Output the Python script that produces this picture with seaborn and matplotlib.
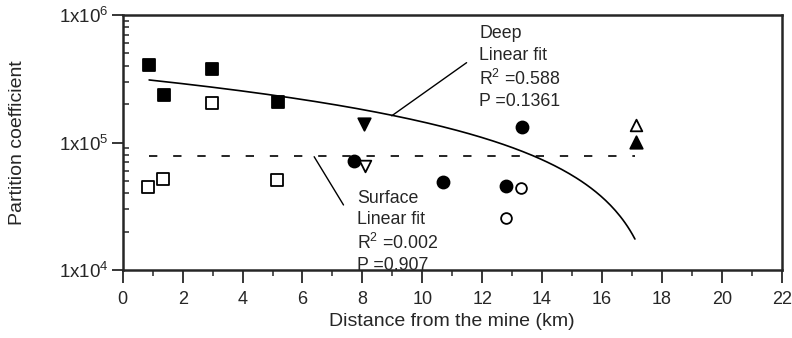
import numpy as np
import pandas as pd
import matplotlib
matplotlib.use("Agg")
import matplotlib.pyplot as plt
import seaborn as sns
from matplotlib.ticker import FixedLocator, LogLocator, NullFormatter

# ---- data ----
deep_sq_x = [0.89, 1.39, 2.99, 5.18]
deep_sq_y = [4.06e5, 2.36e5, 3.77e5, 2.09e5]
surf_sq_x = [0.83, 1.36, 2.99, 5.14]
surf_sq_y = [4.45e4, 5.2e4, 2.05e5, 5.08e4]
deep_ci_x = [7.72, 10.70, 12.80, 13.32]
deep_ci_y = [7.16e4, 4.87e4, 4.58e4, 1.33e5]
surf_ci_x = [12.80, 13.29]
surf_ci_y = [2.57e4, 4.37e4]
deep_td_x = [8.06]
deep_td_y = [1.40e5]
surf_td_x = [8.09]
surf_td_y = [6.58e4]
deep_tu_x = [17.14]
deep_tu_y = [1.01e5]
surf_tu_x = [17.14]
surf_tu_y = [1.37e5]

# linear fits (y = a + b*x), drawn on the log axis
deep_fit = (325400, -18005)
surf_fit = (78700, 0.0)
fit_range = (0.88, 17.1)

deep_text = "Deep\nLinear fit\nR$^2$ =0.588\nP =0.1361"
surf_text = "Surface\nLinear fit\nR$^2$ =0.002\nP =0.907"

groups = [
    (deep_sq_x, deep_sq_y, "s", True, 85),
    (surf_sq_x, surf_sq_y, "s", False, 85),
    (deep_ci_x, deep_ci_y, "o", True, 75),
    (surf_ci_x, surf_ci_y, "o", False, 60),
    (deep_td_x, deep_td_y, "v", True, 80),
    (surf_td_x, surf_td_y, "v", False, 70),
    (deep_tu_x, deep_tu_y, "^", True, 80),
    (surf_tu_x, surf_tu_y, "^", False, 70),
]

sns.set_style("ticks")
plt.rcParams["font.family"] = ["Liberation Sans", "DejaVu Sans"]
plt.rcParams["mathtext.fontset"] = "custom"
plt.rcParams["mathtext.rm"] = "Liberation Sans"

fig = plt.figure(figsize=(7.92, 3.38), dpi=100)
ax = fig.add_axes([0.155, 0.201, 0.832, 0.7546])

for gx, gy, m, filled, s in groups:
    df = pd.DataFrame({"x": gx, "y": gy})
    sns.scatterplot(data=df, x="x", y="y", marker=m, s=s, ax=ax,
                    color="black" if filled else "white",
                    edgecolor="black", linewidth=1.3, zorder=3)

xs = np.linspace(fit_range[0], fit_range[1], 200)
ax.plot(xs, deep_fit[0] + deep_fit[1] * xs, color="black", lw=1.2)
ax.plot(xs, surf_fit[0] + surf_fit[1] * xs, color="black", lw=1.2,
        dashes=(5, 9.5))

ax.set_yscale("log")
ax.set_xlim(0, 22)
ax.set_ylim(1e4, 1e6)

ax.xaxis.set_major_locator(FixedLocator(np.arange(0, 23, 2)))
ax.xaxis.set_minor_locator(FixedLocator(np.arange(1, 22, 2)))
ax.yaxis.set_major_locator(FixedLocator([1e4, 1e5, 1e6]))
ax.yaxis.set_minor_locator(LogLocator(base=10, subs=np.arange(2, 10)))
ax.yaxis.set_minor_formatter(NullFormatter())
ax.set_yticklabels(["1x10$^4$", "1x10$^5$", "1x10$^6$"])
ax.set_xticklabels([str(v) for v in range(0, 23, 2)])

ax.tick_params(axis="x", which="major", direction="out", length=9, width=1.3,
               labelsize=13, pad=6)
ax.tick_params(axis="x", which="minor", direction="out", length=4, width=1.1)
ax.tick_params(axis="y", which="major", direction="out", length=8, width=1.3,
               labelsize=13.5, pad=2)
ax.tick_params(axis="y", which="minor", direction="in", length=4.5, width=1.1)

for sp in ax.spines.values():
    sp.set_linewidth(1.8)
    sp.set_visible(True)

ax.set_xlabel("Distance from the mine (km)", fontsize=14, labelpad=4)
ax.set_ylabel("Partition coefficient", fontsize=14, labelpad=24)

# Deep fit label and leader line
ax.annotate("", xy=(8.98, 1.62e5), xytext=(11.48, 4.23e5),
            arrowprops=dict(arrowstyle="-", color="black", lw=1.0,
                            shrinkA=0, shrinkB=0))
ax.text(11.9, 3.85e5, deep_text, fontsize=12.8, linespacing=1.33,
        va="center", ha="left")

# Surface fit label and leader line
ax.annotate("", xy=(7.37, 3.24e4), xytext=(6.39, 7.74e4),
            arrowprops=dict(arrowstyle="-", color="black", lw=1.0,
                            shrinkA=0, shrinkB=0))
ax.text(7.82, 2.0e4, surf_text, fontsize=12.8, linespacing=1.3,
        va="center", ha="left")

fig.savefig("out.png", dpi=100)
